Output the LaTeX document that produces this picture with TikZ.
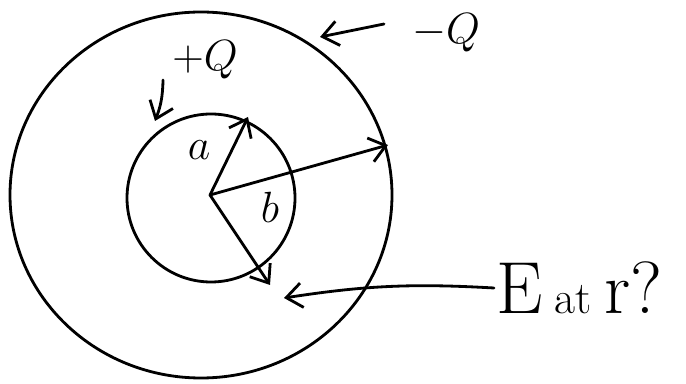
\documentclass[tikz,border=0pt]{standalone}
\usepackage{tikz}
\usetikzlibrary{arrows.meta}
\tikzset{
  pen/.style={line width=1.6pt, line cap=round},
  pointer/.style={pen, -{Straight Barb[length=9pt, width=14pt, line width=1.6pt]}},
  label/.style={inner sep=1pt, font=\fontsize{#1}{#1}\selectfont},
}

\begin{document}
\begin{tikzpicture}[x=0.02cm, y=-0.02cm]
    \useasboundingbox (0,0) rectangle (686,384);

    % Shells
    \draw[pen] (201,195) ellipse [x radius=191, y radius=183];
    \draw[pen] (211,198) circle (84);

    % Radii
    \coordinate (o) at (210,195);
    \coordinate (atip) at (248,117);
    \coordinate (btip) at (388,145);
    \coordinate (rtip) at (270,285);
    \draw[pointer] (o) -- (atip);
    \draw[pointer] (o) -- (btip);
    \draw[pointer] (o) -- (rtip);
    \node[label=36] (a) at (199,150) {$a$};
    \node[label=38] (b) at (270,207) {$b$};

    % Charges
    \node[label=34] (plusq) at (205,60) {$+Q$};
    \coordinate (inner) at (155,121);
    \coordinate (plustail) at (163,80);
    \draw[pointer] (plustail) to[bend left=10] (inner);
    \node[label=34] (minusq) at (446,33) {$-Q$};
    \coordinate (outer) at (320,37);
    \coordinate (minustail) at (384,24);
    \draw[pointer] (minustail) -- (outer);

    % Question
    \node[label=42, anchor=west] (ask) at (494,288)
      {E\,{\fontsize{26}{26}\selectfont at}\,r?};
    \coordinate (rfield) at (284,298);
    \draw[pointer] (ask.west) to[bend right=6] (rfield);
\end{tikzpicture}
\end{document}
